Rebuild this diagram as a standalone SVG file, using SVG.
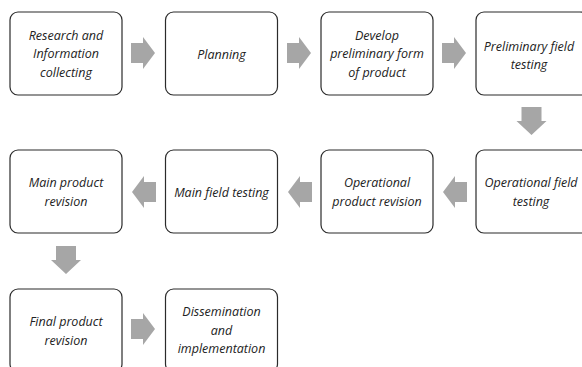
<svg xmlns="http://www.w3.org/2000/svg" width="582" height="367" viewBox="0 0 582 367">
<style>
.box{fill:#ffffff;stroke:#2b2b2b;stroke-width:1.2}
.t{font-family:"Open Sans","Noto Sans",sans-serif;font-style:italic;font-size:12.5px;fill:#222222;text-anchor:middle}
.arr{fill:#a6a6a6;stroke:none}
</style>
<rect width="582" height="367" fill="#ffffff"/>
<g id="connectors">
<path class="arr" d="M131,43 H143 V37 L155,53 L143,69 V63 H131 Z"/>
<path class="arr" d="M287,43 H299 V37 L311,53 L299,69 V63 H287 Z"/>
<path class="arr" d="M442,43 H454 V37 L466,53 L454,69 V63 H442 Z"/>
<path class="arr" d="M521.5,107 V121 H516.5 L531.5,135 L546.5,121 H541.5 V107 Z"/>
<path class="arr" d="M467,182 H455 V176 L443,192 L455,208 V202 H467 Z"/>
<path class="arr" d="M312,182 H300 V176 L288,192 L300,208 V202 H312 Z"/>
<path class="arr" d="M156,182 H144 V176 L132,192 L144,208 V202 H156 Z"/>
<path class="arr" d="M56,246 V260 H51 L66,274 L81,260 H76 V246 Z"/>
<path class="arr" d="M131,319 H143 V313 L155,329 L143,345 V339 H131 Z"/>
</g>
<g id="n1"><rect class="box" x="10" y="12" width="112" height="83" rx="8"/>
<text class="t" x="66" y="39.5">Research and</text><text class="t" x="66" y="58">Information</text><text class="t" x="66" y="76.5">collecting</text></g>
<g id="n2"><rect class="box" x="165.5" y="12" width="112" height="83" rx="8"/>
<text class="t" x="221.5" y="58.5">Planning</text></g>
<g id="n3"><rect class="box" x="321" y="12" width="112" height="83" rx="8"/>
<text class="t" x="377" y="39.5">Develop</text><text class="t" x="377" y="58">preliminary form</text><text class="t" x="377" y="76.5">of product</text></g>
<g id="n4"><rect class="box" x="476" y="12" width="112" height="83" rx="8"/>
<text class="t" x="529" y="50.5">Preliminary field</text><text class="t" x="529" y="69">testing</text></g>
<g id="n5"><rect class="box" x="476" y="150" width="112" height="83" rx="8"/>
<text class="t" x="531" y="187">Operational field</text><text class="t" x="531" y="205.5">testing</text></g>
<g id="n6"><rect class="box" x="321" y="150" width="112" height="83" rx="8"/>
<text class="t" x="377" y="187">Operational</text><text class="t" x="377" y="205.5">product revision</text></g>
<g id="n7"><rect class="box" x="165.5" y="150" width="112" height="83" rx="8"/>
<text class="t" x="221.5" y="196.5">Main field testing</text></g>
<g id="n8"><rect class="box" x="10" y="150" width="112" height="83" rx="8"/>
<text class="t" x="66" y="187">Main product</text><text class="t" x="66" y="205.5">revision</text></g>
<g id="n9"><rect class="box" x="10" y="289" width="112" height="83" rx="8"/>
<text class="t" x="66" y="326">Final product</text><text class="t" x="66" y="344.5">revision</text></g>
<g id="n10"><rect class="box" x="165.5" y="289" width="112" height="83" rx="8"/>
<text class="t" x="221.5" y="316">Dissemination</text><text class="t" x="221.5" y="334.5">and</text><text class="t" x="221.5" y="353">implementation</text></g>
</svg>
